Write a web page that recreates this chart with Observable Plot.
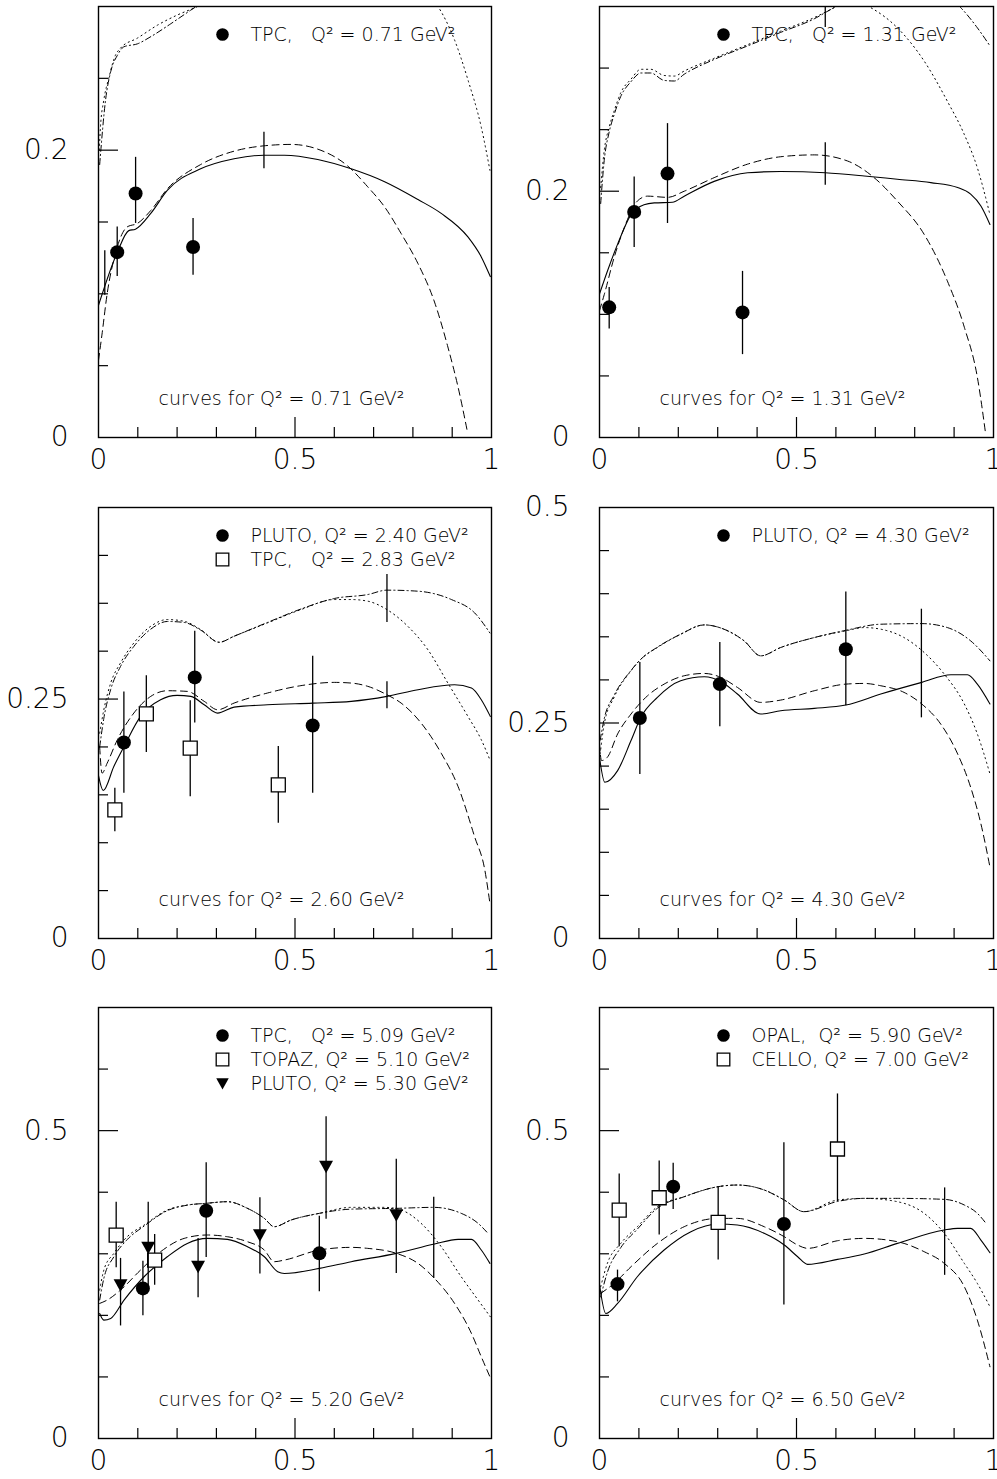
<!DOCTYPE html>
<html><head><meta charset="utf-8">
<script src="https://cdn.jsdelivr.net/npm/d3@7"></script>
<script src="https://cdn.jsdelivr.net/npm/@observablehq/plot@0.6"></script>
<style>
body{margin:0;background:#fff;}
#wrap{position:relative;width:997px;height:1479px;overflow:hidden;background:#fff;}
#wrap svg{position:absolute;overflow:visible;}
#wrap svg text{white-space:pre;}
</style></head><body><div id="wrap"></div>
<script>
// ---------- tick values / labels ----------
const xMinorTicks = [0.1,0.2,0.3,0.4,0.6,0.7,0.8,0.9];
const xMajorTicks = [0.5];
const xTickLabels = [0, 0.5, 1];
const yMax = [0.3, 0.35, 0.45, 0.5, 0.7, 0.7];
const yMinorTicks1 = [0.05,0.1,0.15,0.25];
const yMinorTicks2 = [0.05,0.1,0.15,0.25,0.3];
const yMinorTicks3 = [0.05,0.1,0.15,0.2,0.3,0.35,0.4];
const yMinorTicks4 = [0.05,0.1,0.15,0.2,0.3,0.35,0.4,0.45];
const yMinorTicks56 = [0.1,0.2,0.3,0.4,0.6];
const yMajorTicks = [[0.2],[0.2],[0.25],[0.25],[0.5],[0.5]];
const yTickLabels = [[0,0.2],[0,0.2],[0,0.25],[0,0.25,0.5],[0,0.5],[0,0.5]];
const curveQ2 = ["0.71","1.31","2.60","4.30","5.20","6.50"];

// ---------- legends ----------
const legend1 = ["TPC,   Q² = 0.71 GeV²"];
const legend2 = ["TPC,   Q² = 1.31 GeV²"];
const legend3 = ["PLUTO, Q² = 2.40 GeV²", "TPC,   Q² = 2.83 GeV²"];
const legend4 = ["PLUTO, Q² = 4.30 GeV²"];
const legend5 = ["TPC,   Q² = 5.09 GeV²", "TOPAZ, Q² = 5.10 GeV²", "PLUTO, Q² = 5.30 GeV²"];
const legend6 = ["OPAL,  Q² = 5.90 GeV²", "CELLO, Q² = 7.00 GeV²"];

// ---------- data points [x, y, yLow, yHigh] ----------
const p1TPC = [[0.0476,0.129,0.112,0.1466],[0.0944,0.1698,0.149,0.195],[0.2406,0.1326,0.1129,0.1524]];
const p2TPC = [[0.0246,0.1057,0.0881,0.1219],[0.088,0.1832,0.1543,0.2116],[0.1726,0.2143,0.1738,0.2549],[0.363,0.1016,0.0673,0.1349]];
const p3PLUTO = [[0.0646,0.2046,0.1517,0.2573],[0.2449,0.2726,0.2249,0.3207],[0.545,0.2224,0.1517,0.2946]];
const p3TPC = [[0.0416,0.1342,0.1115,0.1569],[0.1217,0.2346,0.1942,0.2744],[0.2334,0.1987,0.1481,0.2482],[0.4575,0.1604,0.1203,0.2004]];
const p4PLUTO = [[0.1024,0.2558,0.1902,0.3202],[0.3054,0.2951,0.2457,0.3433],[0.6252,0.3356,0.27,0.402]];
const p5TPC = [[0.113,0.2438,0.1993,0.288],[0.274,0.37,0.294,0.448],[0.5619,0.3007,0.2383,0.361]];
const p5TOPAZ = [[0.045,0.3304,0.2773,0.3836],[0.1429,0.2898,0.2491,0.3315]];
const p5PLUTO = [[0.0561,0.2491,0.1828,0.2925],[0.1265,0.3098,0.2464,0.3836],[0.2534,0.279,0.2286,0.325],[0.4107,0.3304,0.267,0.391],[0.5791,0.4414,0.3559,0.5227],[0.7577,0.3629,0.2681,0.4534]];
const p6OPAL = [[0.0457,0.2508,0.222,0.2735],[0.187,0.409,0.372,0.447],[0.468,0.3483,0.2167,0.4805]];
const p6CELLO = [[0.05,0.371,0.3114,0.4296],[0.1515,0.391,0.3304,0.4507],[0.3012,0.351,0.2898,0.409],[0.604,0.4702,0.3846,0.5596]];

// ---------- theory uncertainty bars [x, yLow, yHigh] ----------
const p1Bars = [[0.016,0.099,0.13],[0.421,0.187,0.2125]];
const p2Bars = [[0.573,0.2049,0.2394],[0.573,0.333,0.36]];
const p3Bars = [[0.734,0.33,0.38],[0.734,0.240,0.268]];
const p4Bars = [[0.817,0.256,0.382]];
const p5Bars = [[0.853,0.26,0.392]];
const p6Bars = [[0.876,0.265,0.407]];

// ---------- model curves [x, y] ----------
const p1Solid = [[0,0.092],[0.048,0.129],[0.077,0.144],[0.094,0.145],[0.133,0.156],[0.175,0.172],[0.26,0.187],[0.345,0.194],[0.42,0.1965],[0.473,0.1965],[0.558,0.1935],[0.643,0.187],[0.728,0.178],[0.813,0.1656],[0.872,0.156],[0.94,0.1396],[0.974,0.1257],[0.997,0.112]];
const p1Dashed = [[0,0.0537],[0.009,0.072],[0.022,0.1],[0.043,0.128],[0.073,0.1466],[0.099,0.149],[0.133,0.158],[0.175,0.173],[0.26,0.19],[0.345,0.1993],[0.42,0.203],[0.49,0.204],[0.558,0.2007],[0.634,0.189],[0.685,0.1745],[0.728,0.1605],[0.77,0.142],[0.813,0.121],[0.855,0.0943],[0.889,0.063],[0.915,0.035],[0.938,0.005]];
const p1Dotted = [[0.002,0.2],[0.005,0.216],[0.0136,0.235],[0.026,0.25],[0.043,0.266],[0.056,0.271],[0.099,0.278],[0.15,0.287],[0.2,0.294],[0.252,0.30],[0.4,0.325],[0.6,0.335],[0.75,0.325],[0.864,0.30],[0.906,0.2767],[0.94,0.249],[0.974,0.216],[0.996,0.186]];
const p1DashDot = [[0.003,0.19],[0.018,0.235],[0.031,0.2546],[0.048,0.266],[0.065,0.272],[0.099,0.274],[0.133,0.279],[0.184,0.288],[0.235,0.2975],[0.26,0.302]];

const p2Solid = [[0,0.1165],[0.02,0.135],[0.046,0.157],[0.08,0.181],[0.113,0.189],[0.139,0.1905],[0.185,0.191],[0.215,0.196],[0.291,0.208],[0.376,0.215],[0.46,0.216],[0.573,0.215],[0.672,0.2124],[0.756,0.2097],[0.841,0.207],[0.909,0.203],[0.942,0.1976],[0.968,0.188],[0.991,0.173]];
const p2Dashed = [[0,0.103],[0.012,0.116],[0.037,0.146],[0.063,0.1705],[0.096,0.192],[0.122,0.196],[0.173,0.195],[0.215,0.2],[0.291,0.211],[0.376,0.222],[0.46,0.228],[0.545,0.2295],[0.629,0.2246],[0.697,0.211],[0.756,0.192],[0.824,0.165],[0.883,0.127],[0.926,0.0895],[0.959,0.049],[0.98,0.003]];
const p2Dotted = [[0.003,0.203],[0.012,0.233],[0.0245,0.252],[0.037,0.265],[0.054,0.28],[0.08,0.291],[0.105,0.299],[0.13,0.299],[0.164,0.294],[0.19,0.2935],[0.215,0.2976],[0.291,0.308],[0.376,0.319],[0.46,0.33],[0.545,0.341],[0.587,0.3476],[0.64,0.356],[0.689,0.349],[0.756,0.3327],[0.824,0.3057],[0.883,0.273],[0.926,0.246],[0.959,0.219],[0.991,0.181]];
const p2DashDot = [[0.003,0.19],[0.012,0.225],[0.0245,0.248],[0.037,0.262],[0.054,0.277],[0.08,0.289],[0.105,0.296],[0.13,0.296],[0.164,0.29],[0.19,0.2895],[0.215,0.295],[0.291,0.307],[0.376,0.318],[0.46,0.329],[0.545,0.34],[0.587,0.3476],[0.7,0.365],[0.85,0.365],[0.917,0.349],[0.959,0.3327],[0.991,0.318]];

const p3Solid = [[0,0.17],[0.012,0.1545],[0.039,0.1796],[0.065,0.2005],[0.107,0.2319],[0.158,0.2493],[0.2,0.2538],[0.235,0.2528],[0.269,0.244],[0.303,0.2353],[0.345,0.2416],[0.43,0.244],[0.545,0.2458],[0.643,0.2476],[0.734,0.2528],[0.813,0.2598],[0.906,0.265],[0.949,0.2615],[0.974,0.2493],[0.997,0.2319]];
const p3Dashed = [[0.003,0.2],[0.009,0.1726],[0.022,0.183],[0.048,0.2075],[0.09,0.2354],[0.133,0.2528],[0.175,0.2587],[0.226,0.258],[0.269,0.2476],[0.303,0.2388],[0.345,0.2458],[0.43,0.2563],[0.515,0.264],[0.6,0.2674],[0.643,0.2667],[0.685,0.2633],[0.734,0.2545],[0.77,0.2458],[0.821,0.2249],[0.872,0.1935],[0.915,0.1586],[0.957,0.1063],[0.983,0.0715],[0.996,0.0366]];
const p3Dotted = [[0.003,0.2144],[0.0136,0.2388],[0.031,0.2667],[0.056,0.2877],[0.09,0.3086],[0.133,0.326],[0.175,0.333],[0.218,0.3312],[0.26,0.3225],[0.307,0.3093],[0.345,0.3156],[0.43,0.3295],[0.515,0.3434],[0.6,0.3539],[0.643,0.3539],[0.685,0.3522],[0.734,0.3434],[0.787,0.326],[0.838,0.3016],[0.889,0.2667],[0.94,0.2319],[0.974,0.2075],[0.996,0.1865]];
const p3DashDot = [[0.003,0.2],[0.0136,0.23],[0.031,0.26],[0.056,0.284],[0.09,0.305],[0.133,0.323],[0.175,0.331],[0.218,0.33],[0.26,0.322],[0.307,0.3093],[0.345,0.3156],[0.43,0.33],[0.515,0.344],[0.6,0.355],[0.685,0.3591],[0.734,0.3637],[0.813,0.3626],[0.898,0.3539],[0.957,0.34],[0.996,0.319]];

const p4Solid = [[0,0.21],[0.0135,0.1813],[0.046,0.1948],[0.08,0.2296],[0.105,0.2566],[0.147,0.2797],[0.206,0.299],[0.266,0.3036],[0.308,0.2982],[0.35,0.2836],[0.409,0.2604],[0.46,0.2643],[0.545,0.267],[0.625,0.2708],[0.714,0.2836],[0.818,0.2971],[0.892,0.306],[0.934,0.306],[0.959,0.2951],[0.991,0.272]];
const p4Dashed = [[0,0.2257],[0.005,0.2064],[0.02,0.2103],[0.046,0.2373],[0.08,0.2604],[0.122,0.2816],[0.164,0.2951],[0.215,0.3048],[0.266,0.3075],[0.308,0.3029],[0.35,0.2913],[0.409,0.2739],[0.46,0.2766],[0.545,0.2874],[0.625,0.2951],[0.672,0.2959],[0.714,0.2932],[0.773,0.2855],[0.818,0.272],[0.866,0.2488],[0.909,0.2141],[0.942,0.1755],[0.968,0.1331],[0.991,0.0829]];
const p4Dotted = [[0.0017,0.214],[0.012,0.2488],[0.037,0.2797],[0.08,0.3106],[0.105,0.3241],[0.147,0.3376],[0.206,0.353],[0.266,0.3638],[0.316,0.3588],[0.367,0.3453],[0.409,0.3279],[0.46,0.3376],[0.545,0.3491],[0.625,0.3569],[0.672,0.3607],[0.714,0.3588],[0.773,0.3491],[0.824,0.3318],[0.875,0.3067],[0.926,0.272],[0.959,0.2373],[0.991,0.191]];
const p4DashDot = [[0.0017,0.23],[0.012,0.255],[0.037,0.282],[0.08,0.311],[0.105,0.324],[0.147,0.338],[0.206,0.353],[0.266,0.3638],[0.316,0.3588],[0.367,0.3453],[0.409,0.3279],[0.46,0.3376],[0.545,0.3491],[0.625,0.3575],[0.714,0.3646],[0.818,0.3653],[0.883,0.3607],[0.942,0.3453],[0.991,0.3221]];

const p5Solid = [[0.003,0.203],[0.0136,0.1923],[0.031,0.195],[0.065,0.2248],[0.116,0.2627],[0.175,0.2952],[0.226,0.3169],[0.277,0.325],[0.328,0.3234],[0.379,0.3115],[0.422,0.2952],[0.456,0.2709],[0.473,0.2681],[0.562,0.2763],[0.643,0.2871],[0.758,0.3007],[0.855,0.3158],[0.915,0.3234],[0.949,0.3234],[0.974,0.3061],[0.996,0.2844]];
const p5Dashed = [[0.003,0.2194],[0.022,0.2248],[0.056,0.2411],[0.107,0.2736],[0.158,0.3034],[0.218,0.325],[0.277,0.3305],[0.328,0.3277],[0.379,0.3196],[0.422,0.3061],[0.447,0.2871],[0.473,0.2898],[0.562,0.3061],[0.643,0.3104],[0.685,0.3088],[0.758,0.3007],[0.813,0.2844],[0.855,0.26],[0.906,0.2194],[0.949,0.1706],[0.974,0.1327],[0.996,0.1002]];
const p5Dotted = [[0.003,0.241],[0.0136,0.2736],[0.039,0.3007],[0.073,0.3277],[0.116,0.3467],[0.175,0.3711],[0.226,0.3792],[0.274,0.3819],[0.328,0.3846],[0.379,0.3738],[0.422,0.3575],[0.447,0.344],[0.49,0.3548],[0.562,0.3657],[0.643,0.3754],[0.728,0.3754],[0.77,0.3711],[0.821,0.3494],[0.872,0.3115],[0.923,0.2627],[0.966,0.2248],[0.997,0.1977]];
const p5DashDot = [[0.003,0.225],[0.0136,0.26],[0.039,0.295],[0.073,0.323],[0.116,0.345],[0.175,0.37],[0.226,0.379],[0.274,0.382],[0.328,0.3846],[0.379,0.3738],[0.422,0.3575],[0.447,0.344],[0.49,0.3548],[0.562,0.3657],[0.643,0.3725],[0.758,0.3738],[0.853,0.3754],[0.923,0.3657],[0.966,0.3494],[0.991,0.3332]];

const p6Solid = [[0,0.25],[0.016,0.2031],[0.046,0.2194],[0.096,0.2627],[0.164,0.3061],[0.232,0.3359],[0.301,0.3483],[0.35,0.3467],[0.418,0.3332],[0.469,0.3142],[0.503,0.2952],[0.528,0.2828],[0.604,0.2909],[0.672,0.2996],[0.756,0.3169],[0.875,0.3386],[0.909,0.3413],[0.942,0.3413],[0.968,0.3223],[0.991,0.3017]];
const p6Dashed = [[0.003,0.2356],[0.037,0.2519],[0.08,0.279],[0.147,0.3169],[0.215,0.344],[0.301,0.3575],[0.35,0.3575],[0.418,0.344],[0.469,0.3277],[0.503,0.3142],[0.528,0.3088],[0.604,0.3212],[0.672,0.325],[0.756,0.3196],[0.824,0.3034],[0.875,0.2844],[0.926,0.2465],[0.959,0.1923],[0.991,0.1165]];
const p6Dotted = [[0.003,0.2465],[0.02,0.2844],[0.054,0.3169],[0.096,0.344],[0.147,0.3765],[0.215,0.3927],[0.301,0.409],[0.35,0.4117],[0.418,0.4036],[0.469,0.3873],[0.519,0.3684],[0.604,0.3873],[0.672,0.39],[0.756,0.3846],[0.824,0.3657],[0.875,0.3332],[0.926,0.2844],[0.959,0.2519],[0.991,0.214]];
const p6DashDot = [[0.003,0.23],[0.02,0.27],[0.054,0.31],[0.096,0.34],[0.147,0.374],[0.215,0.3927],[0.301,0.409],[0.35,0.4117],[0.418,0.4036],[0.469,0.3873],[0.519,0.3684],[0.604,0.385],[0.672,0.39],[0.756,0.39],[0.875,0.3884],[0.926,0.3792],[0.959,0.3657],[0.981,0.3494]];

// ---------- rendering ----------
const FONT = "'DejaVu Sans', 'Liberation Sans', sans-serif";
const FH = 431;
const downTriangle = {draw(ctx, size) { const s = Math.sqrt(size) * 0.56; ctx.moveTo(-s, -s * 0.85); ctx.lineTo(s, -s * 0.85); ctx.lineTo(0, s * 0.95); ctx.closePath(); }};
const styles = {
  solid: {strokeDasharray: null, strokeWidth: 1.1},
  dashed: {strokeDasharray: "7,4.5", strokeWidth: 1.0},
  dotted: {strokeDasharray: "1.2,3.6", strokeWidth: 1.0},
  dashdot: {strokeDasharray: "6,3,1.2,3", strokeWidth: 1.0}
};
const markerStyle = {
  circle: {symbol: "circle", fill: "black", stroke: "none", r: 7},
  square: {symbol: "square", fill: "white", stroke: "black", strokeWidth: 1.3, r: 7.9},
  triangle: {symbol: downTriangle, fill: "black", stroke: "none", r: 7}
};

function panel(i, cfg) {
  const col = i % 2, row = Math.floor(i / 2);
  const FW = col === 0 ? 393 : 394;
  const ml = col === 0 ? 98 : 99;
  const mr = 6;
  const mt = 6, mb = 36;
  const marks = [];
  for (const [data, kind] of cfg.curves) {
    marks.push(Plot.line(data, {x: d => d[0], y: d => d[1], stroke: "black", curve: "monotone-x", clip: true, ...styles[kind]}));
  }
  marks.push(Plot.ruleX(cfg.bars, {x: d => d[0], y1: d => d[1], y2: d => d[2], stroke: "black", strokeWidth: 1.3, clip: true}));
  for (const [data, kind] of cfg.series) {
    marks.push(Plot.ruleX(data, {x: d => d[0], y1: d => d[2], y2: d => d[3], stroke: "black", strokeWidth: 1.3}));
    marks.push(Plot.dot(data, {x: d => d[0], y: d => d[1], ...markerStyle[kind]}));
  }
  cfg.legend.forEach((label, j) => {
    const kind = cfg.series[j][1];
    const ms = markerStyle[kind];
    marks.push(Plot.dot([label], {frameAnchor: "top-left", dx: 124, dy: 28 + 24 * j, ...ms, r: ms.r * 0.9}));
    marks.push(Plot.text([label], {frameAnchor: "top-left", dx: 152, dy: 28 + 24 * j, textAnchor: "start", lineAnchor: "middle", fontSize: 19, fill: "black"}));
  });
  marks.push(Plot.text([`curves for Q² = ${cfg.q2} GeV²`], {frameAnchor: "bottom-left", dx: 183, dy: -39, textAnchor: "middle", lineAnchor: "middle", fontSize: 19, fill: "black"}));
  marks.push(Plot.tickY(cfg.yMinor, {y: d => d, insetRight: FW - 10, stroke: "black", strokeWidth: 1.2}));
  marks.push(Plot.tickY(cfg.yMajor, {y: d => d, insetRight: FW - 20, stroke: "black", strokeWidth: 1.2}));
  marks.push(Plot.tickX(xMinorTicks, {x: d => d, insetTop: FH - 10, stroke: "black", strokeWidth: 1.2}));
  marks.push(Plot.tickX(xMajorTicks, {x: d => d, insetTop: FH - 20, stroke: "black", strokeWidth: 1.2}));
  marks.push(Plot.frame({stroke: "black", strokeWidth: 1.4}));
  marks.push(Plot.axisY(cfg.yLabels, {tickSize: 0, tickPadding: 30, tickFormat: d => String(d), fontSize: 28, fill: "black"}));
  marks.push(Plot.axisX(xTickLabels, {tickSize: 0, tickPadding: 12, tickFormat: d => String(d), fontSize: 28, fill: "black"}));

  const svg = Plot.plot({
    width: ml + FW + mr, height: mt + FH + mb,
    marginLeft: ml, marginRight: mr, marginTop: mt, marginBottom: mb,
    x: {domain: [0, 1], axis: null},
    y: {domain: [0, cfg.yMax], axis: null},
    style: {fontFamily: FONT, fontWeight: 200, background: "transparent", overflow: "visible"},
    marks
  });
  svg.style.left = (col === 0 ? 0 : 500) + "px";
  svg.style.top = [0, 501, 1001][row] + "px";
  document.getElementById("wrap").appendChild(svg);
}

const panels = [
  {yMax: yMax[0], yMinor: yMinorTicks1, yMajor: yMajorTicks[0], yLabels: yTickLabels[0], q2: curveQ2[0], legend: legend1,
   curves: [[p1Solid,"solid"],[p1Dashed,"dashed"],[p1Dotted,"dotted"],[p1DashDot,"dashdot"]], bars: p1Bars, series: [[p1TPC,"circle"]]},
  {yMax: yMax[1], yMinor: yMinorTicks2, yMajor: yMajorTicks[1], yLabels: yTickLabels[1], q2: curveQ2[1], legend: legend2,
   curves: [[p2Solid,"solid"],[p2Dashed,"dashed"],[p2Dotted,"dotted"],[p2DashDot,"dashdot"]], bars: p2Bars, series: [[p2TPC,"circle"]]},
  {yMax: yMax[2], yMinor: yMinorTicks3, yMajor: yMajorTicks[2], yLabels: yTickLabels[2], q2: curveQ2[2], legend: legend3,
   curves: [[p3Solid,"solid"],[p3Dashed,"dashed"],[p3Dotted,"dotted"],[p3DashDot,"dashdot"]], bars: p3Bars, series: [[p3PLUTO,"circle"],[p3TPC,"square"]]},
  {yMax: yMax[3], yMinor: yMinorTicks4, yMajor: yMajorTicks[3], yLabels: yTickLabels[3], q2: curveQ2[3], legend: legend4,
   curves: [[p4Solid,"solid"],[p4Dashed,"dashed"],[p4Dotted,"dotted"],[p4DashDot,"dashdot"]], bars: p4Bars, series: [[p4PLUTO,"circle"]]},
  {yMax: yMax[4], yMinor: yMinorTicks56, yMajor: yMajorTicks[4], yLabels: yTickLabels[4], q2: curveQ2[4], legend: legend5,
   curves: [[p5Solid,"solid"],[p5Dashed,"dashed"],[p5Dotted,"dotted"],[p5DashDot,"dashdot"]], bars: p5Bars, series: [[p5TPC,"circle"],[p5TOPAZ,"square"],[p5PLUTO,"triangle"]]},
  {yMax: yMax[5], yMinor: yMinorTicks56, yMajor: yMajorTicks[5], yLabels: yTickLabels[5], q2: curveQ2[5], legend: legend6,
   curves: [[p6Solid,"solid"],[p6Dashed,"dashed"],[p6Dotted,"dotted"],[p6DashDot,"dashdot"]], bars: p6Bars, series: [[p6OPAL,"circle"],[p6CELLO,"square"]]}
];
panels.forEach((cfg, i) => panel(i, cfg));
</script></body></html>
